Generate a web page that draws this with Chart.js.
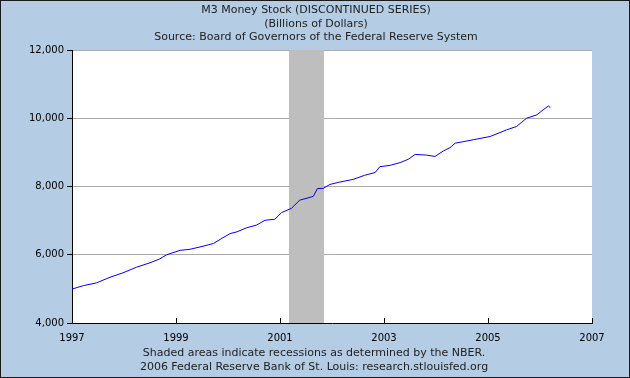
<!DOCTYPE html>
<html>
<head>
<meta charset="utf-8">
<script src="https://cdn.jsdelivr.net/npm/chart.js@4/dist/chart.umd.min.js"></script>
<style>
  html, body { margin: 0; padding: 0; background: #b4cce4; }
  #wrap { width: 630px; height: 378px; position: relative; }
  canvas { display: block; }
</style>
</head>
<body>
<div id="wrap"><canvas id="c" width="630" height="378"></canvas></div>
<script>
// ---- data ----
const titleLines = [
  "M3 Money Stock (DISCONTINUED SERIES)",
  "(Billions of Dollars)",
  "Source: Board of Governors of the Federal Reserve System"
];
const footerLines = [
  "Shaded areas indicate recessions as determined by the NBER.",
  "2006 Federal Reserve Bank of St. Louis: research.stlouisfed.org"
];
// dates as decimal years
const dates = [
  1997.00, 1997.22, 1997.47, 1997.73, 1997.98, 1998.24, 1998.50, 1998.69, 1998.82,
  1999.08, 1999.27, 1999.52, 1999.72, 1999.85, 2000.04, 2000.17, 2000.36, 2000.55,
  2000.71, 2000.90, 2001.03, 2001.22, 2001.38, 2001.64, 2001.72, 2001.83, 2001.96,
  2002.12, 2002.41, 2002.63, 2002.83, 2002.92, 2003.12, 2003.31, 2003.47, 2003.60,
  2003.82, 2003.98, 2004.14, 2004.27, 2004.37, 2004.72, 2005.04, 2005.36, 2005.55,
  2005.74, 2005.94, 2006.06, 2006.16, 2006.20
];
const m3Values = [
  4995, 5095, 5175, 5340, 5470, 5635, 5765, 5880, 6000,
  6130, 6160, 6250, 6330, 6450, 6620, 6670, 6790, 6870,
  7010, 7040, 7235, 7360, 7600, 7710, 7940, 7945, 8060,
  8120, 8210, 8330, 8410, 8580, 8620, 8700, 8800, 8940,
  8920, 8880, 9040, 9140, 9270, 9370, 9465, 9660, 9760,
  10000, 10100, 10245, 10360, 10310
];
const recessionStart = [2001.17];
const recessionEnd = [2001.85];
const xTicks = [1997, 1999, 2001, 2003, 2005, 2007];
const yTicks = [4000, 6000, 8000, 10000, 12000];

const BG = '#b4cce4';
const FONT = '"DejaVu Sans", Verdana, sans-serif';

const framePlugin = {
  id: 'frame',
  beforeDraw(chart) {
    const { ctx, chartArea: a, width, height } = chart;
    ctx.save();
    ctx.fillStyle = BG;
    ctx.fillRect(0, 0, width, height);
    ctx.strokeStyle = '#1a1a1a';
    ctx.lineWidth = 1;
    ctx.strokeRect(0.5, 0.5, width - 1, height - 1);
    ctx.fillStyle = '#ffffff';
    ctx.fillRect(a.left, a.top, a.right - a.left, a.bottom - a.top);
    // titles
    ctx.fillStyle = '#222222';
    ctx.font = '11px ' + FONT;
    ctx.textAlign = 'center';
    ctx.textBaseline = 'middle';
    const ty = [10, 24, 37];
    titleLines.forEach((t, i) => ctx.fillText(t, 316, ty[i]));
    const fy = [353, 367];
    footerLines.forEach((t, i) => ctx.fillText(t, 314, fy[i]));
    ctx.restore();
  },
  beforeDatasetsDraw(chart) {
    const { ctx, chartArea: a } = chart;
    const xs = chart.scales.x;
    ctx.save();
    ctx.fillStyle = '#bebebe';
    recessionStart.forEach((s, i) => {
      const x1 = Math.round(xs.getPixelForValue(s));
      const x2 = Math.round(xs.getPixelForValue(recessionEnd[i]));
      ctx.fillRect(x1, a.top, x2 - x1, a.bottom - a.top);
    });
    // inward x tick marks
    ctx.strokeStyle = '#000';
    ctx.lineWidth = 1;
    xTicks.forEach(v => {
      const x = Math.round(xs.getPixelForValue(v)) + 0.5;
      ctx.beginPath();
      ctx.moveTo(x, a.bottom);
      ctx.lineTo(x, a.bottom - 5);
      ctx.stroke();
    });
    ctx.restore();
  }
};

new Chart(document.getElementById('c'), {
  type: 'line',
  data: {
    datasets: [{
      data: dates.map((d, i) => ({ x: d, y: m3Values[i] })),
      borderColor: '#0000ff',
      borderWidth: 1,
      pointRadius: 0,
      tension: 0,
      fill: false
    }]
  },
  options: {
    responsive: false,
    animation: false,
    devicePixelRatio: 1,
    layout: { padding: { left: 0, right: 38, top: 50, bottom: 0 } },
    plugins: { legend: { display: false }, tooltip: { enabled: false }, title: { display: false } },
    scales: {
      x: {
        type: 'linear',
        min: 1997, max: 2007,
        afterBuildTicks(scale) { scale.ticks = xTicks.map(v => ({ value: v })); },
        afterFit(scale) { scale.height = 55; },
        grid: { display: true, drawOnChartArea: false, drawTicks: false },
        border: { display: true, color: '#000', width: 1 },
        ticks: {
          padding: 9,
          color: '#000',
          font: { family: FONT, size: 10 },
          maxRotation: 0,
          callback: v => String(v)
        }
      },
      y: {
        min: 4000, max: 12000,
        afterBuildTicks(scale) { scale.ticks = yTicks.map(v => ({ value: v })); },
        afterFit(scale) { scale.width = 72; },
        grid: {
          color: c => (c.tick && c.tick.value === 4000) ? 'rgba(0,0,0,0)' : '#aaaaaa',
          tickColor: '#000',
          tickLength: 5,
          lineWidth: 1
        },
        border: { display: true, color: '#000', width: 1 },
        ticks: {
          padding: 3,
          color: '#000',
          font: { family: FONT, size: 10 },
          callback: v => Number(v).toLocaleString('en-US')
        }
      }
    }
  },
  plugins: [framePlugin]
});
</script>
</body>
</html>
